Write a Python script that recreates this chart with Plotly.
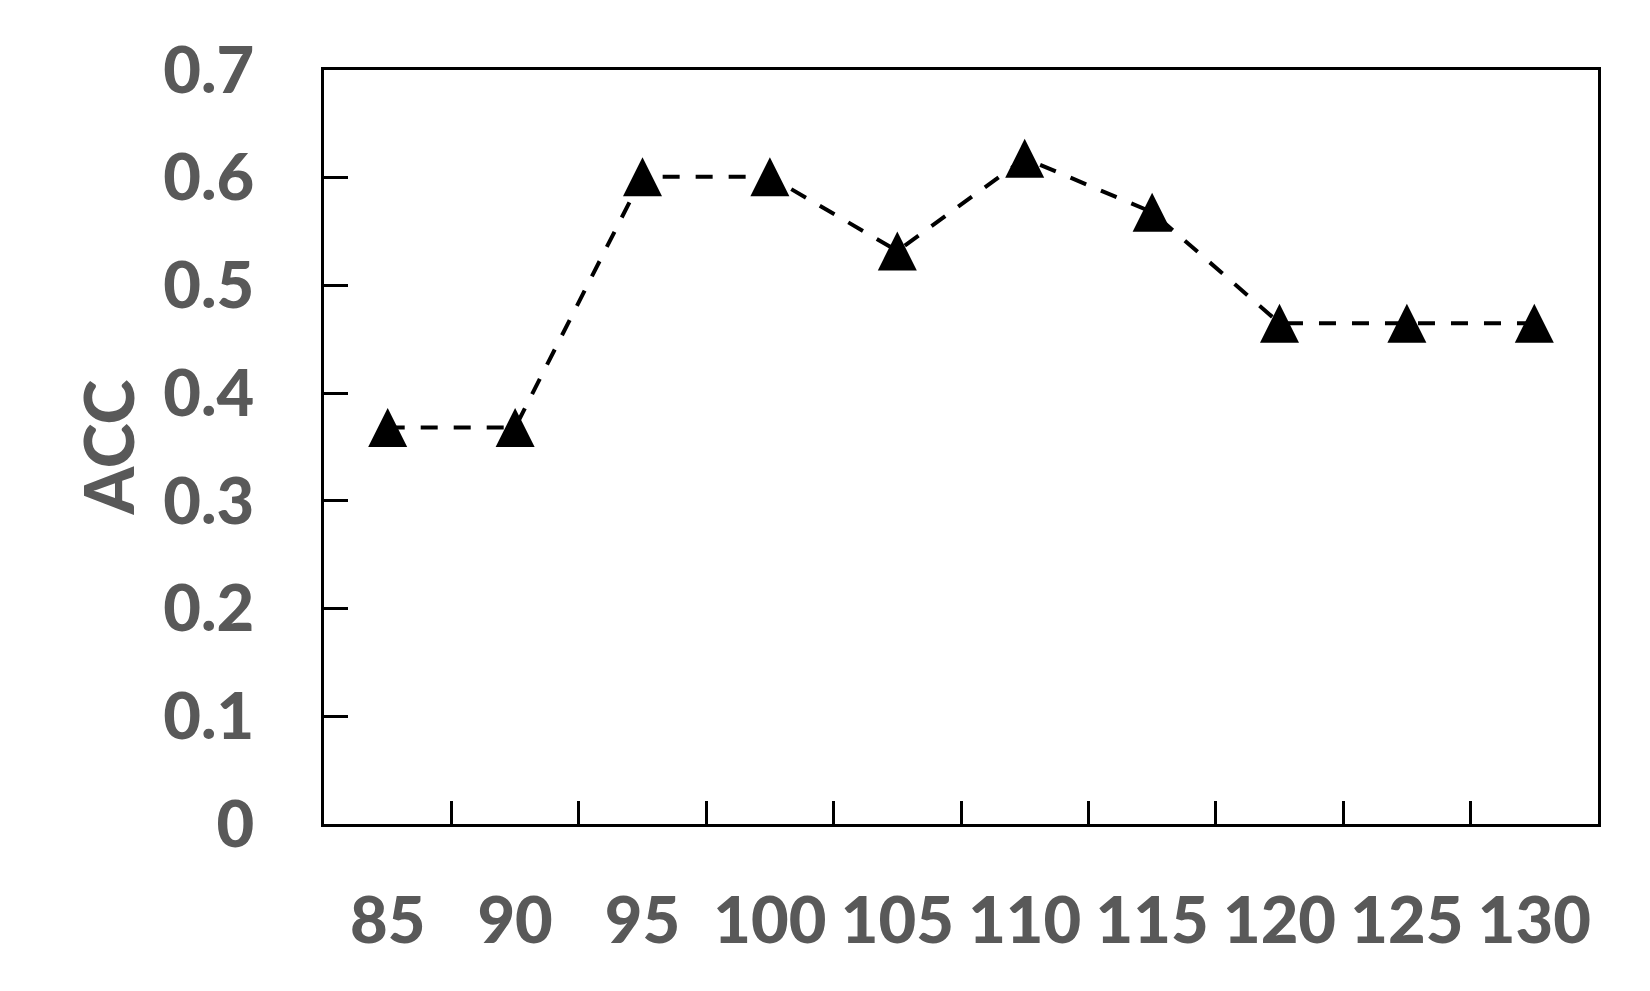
import plotly.graph_objects as go

# data
categories = ['85', '90', '95', '100', '105', '110', '115', '120', '125', '130']
acc = [0.368, 0.368, 0.601, 0.601, 0.532, 0.618, 0.568, 0.465, 0.465, 0.465]
y_ticks = [0, 0.1, 0.2, 0.3, 0.4, 0.5, 0.6, 0.7]
y_tick_labels = ['0', '0.1', '0.2', '0.3', '0.4', '0.5', '0.6', '0.7']

label_font = dict(family='Lato', size=65, color='#595959', weight=900)

fig = go.Figure()

# dashed line with filled triangles
fig.add_trace(
    go.Scatter(
        x=categories,
        y=acc,
        mode='lines+markers',
        line=dict(color='black', width=4, dash='17px,16px'),
        marker=dict(symbol='arrow-down', angle=180, standoff=19.5,
                    size=39, color='black'),
        showlegend=False,
        cliponaxis=False
    )
)

fig.update_xaxes(
    type='category',
    range=[-0.5, 9.5],
    showline=True, linecolor='black', linewidth=2.8, mirror=True,
    ticks='inside', ticklen=23, tickwidth=2.5, tickcolor='black',
    tickson='boundaries',
    showgrid=False, zeroline=False,
    tickfont=label_font,
    ticklabelstandoff=38
)

fig.update_yaxes(
    range=[0, 0.7],
    tickvals=y_ticks,
    ticktext=y_tick_labels,
    showline=True, linecolor='black', linewidth=2.8, mirror=True,
    ticks='inside', ticklen=24, tickwidth=2.5, tickcolor='black',
    showgrid=False, zeroline=False,
    tickfont=label_font,
    ticklabelstandoff=54
)

# y axis title
fig.add_annotation(
    text='ACC', textangle=-90,
    xref='paper', yref='paper', x=-0.17, y=0.5,
    xanchor='center', yanchor='middle', showarrow=False,
    font=dict(family='Lato', size=68, color='#595959', weight=900)
)

# page body adds an 8px margin, so the figure is a bit smaller than the window
fig.update_layout(
    width=1634, height=975,
    margin=dict(l=316, r=44, t=62, b=159),
    plot_bgcolor='white',
    paper_bgcolor='white'
)

fig.write_html("out.html")
